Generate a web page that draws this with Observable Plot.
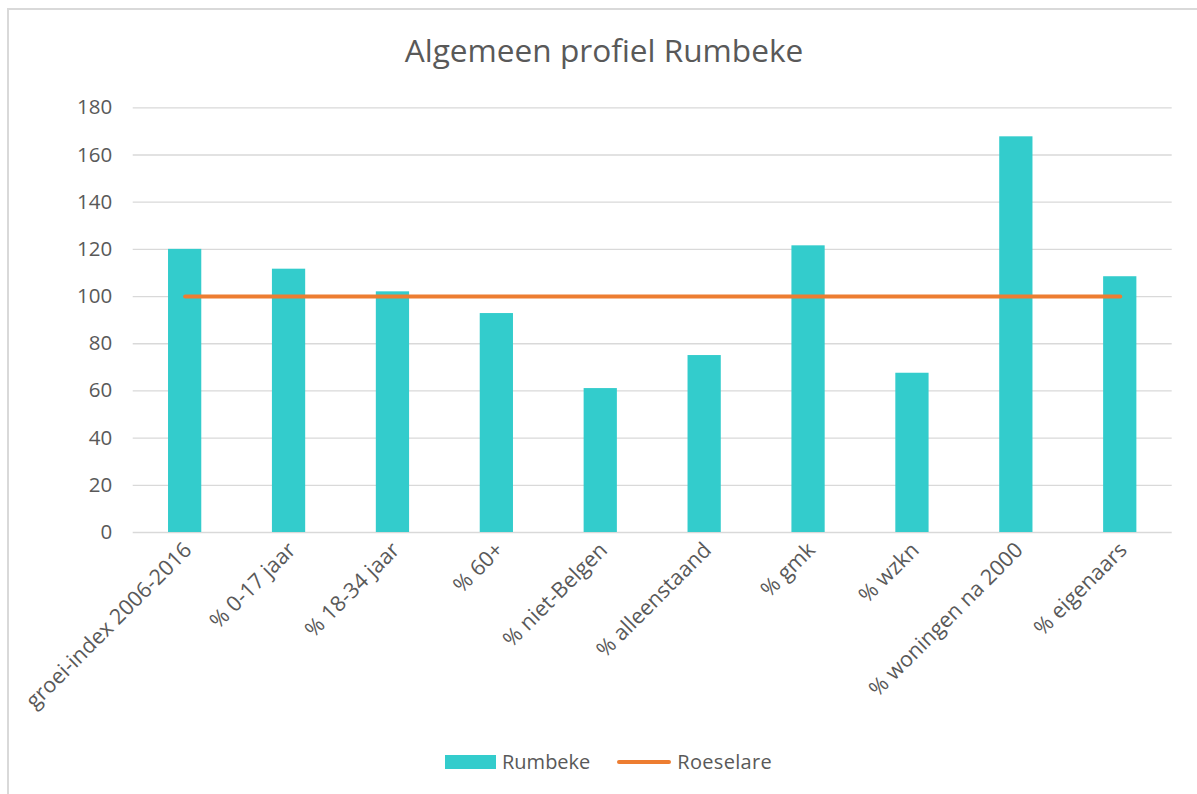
<!DOCTYPE html>
<html>
<head>
<meta charset="utf-8">
<script src="https://cdn.jsdelivr.net/npm/d3@7"></script>
<script src="https://cdn.jsdelivr.net/npm/@observablehq/plot@0.6"></script>
<style>
  html, body { margin: 0; padding: 0; background: #fff; }
  #wrap { position: relative; width: 1197px; height: 794px; overflow: hidden; font-family: "Open Sans", sans-serif; color: #595959; }
  #frame { position: absolute; left: 7px; top: 8px; width: 1300px; height: 900px; border-left: 2px solid #D9D9D9; border-top: 2px solid #D9D9D9; }
  #title { position: absolute; left: 0; width: 1208px; top: 29px; text-align: center; font-size: 31.6px; line-height: 42px; color: #595959; }
  #chart { position: absolute; left: 0; top: 80px; }
  #legend { position: absolute; top: 748px; left: 445px; display: flex; align-items: center; font-size: 20px; line-height: 28px; color: #595959; }
  .sw { display: inline-block; }
</style>
</head>
<body>
<div id="wrap">
  <div id="frame"></div>
  <div id="title">Algemeen profiel Rumbeke</div>
  <div id="chart"></div>
  <div id="legend">
    <span class="sw" style="width:51px;height:14px;background:#33CCCC;margin-right:6px"></span><span>Rumbeke</span>
    <span class="sw" style="width:54px;height:4px;border-radius:2px;background:#ED7D31;margin-left:27px;margin-right:6px"></span><span style="letter-spacing:0.3px">Roeselare</span>
  </div>
</div>
<script>
const categories = ["groei-index 2006-2016", "% 0-17 jaar", "% 18-34 jaar", "% 60+", "% niet-Belgen", "% alleenstaand", "% gmk", "% wzkn", "% woningen na 2000", "% eigenaars"];
const rumbeke = [120, 111.6, 102, 92.8, 61, 75, 121.5, 67.5, 167.7, 108.4];
const roeselare = [100, 100, 100, 100, 100, 100, 100, 100, 100, 100];
const yTicks = [0, 20, 40, 60, 80, 100, 120, 140, 160, 180];

const data = categories.map((c, i) => ({cat: c, rumbeke: rumbeke[i], roeselare: roeselare[i]}));

const chart = Plot.plot({
  width: 1197,
  height: 660,
  marginTop: 27.3,
  marginBottom: 208,
  marginLeft: 132.7,
  marginRight: 25.3,
  style: {fontFamily: "Open Sans, sans-serif", fontSize: "20px", color: "#595959", background: "transparent"},
  x: {domain: categories, paddingInner: 0.68, paddingOuter: 0.34, round: false, label: null},
  y: {domain: [0, 180], label: null},
  marks: [
    Plot.ruleY(yTicks, {stroke: "#D9D9D9", strokeWidth: 1.3}),
    Plot.barY(data, {x: "cat", y: "rumbeke", fill: "#33CCCC"}),
    Plot.lineY(data, {x: "cat", y: "roeselare", stroke: "#ED7D31", strokeWidth: 4, strokeLinecap: "round"}),
    Plot.axisY({ticks: yTicks, tickSize: 0, tickPadding: 21, fontSize: 20.5, fill: "#595959", label: null}),
    Plot.axisX({tickSize: 0, tickRotate: -45, tickPadding: 14, fontSize: 21.5, fill: "#595959", label: null, dx: 3})
  ]
});
document.getElementById("chart").appendChild(chart);
</script>
</body>
</html>
